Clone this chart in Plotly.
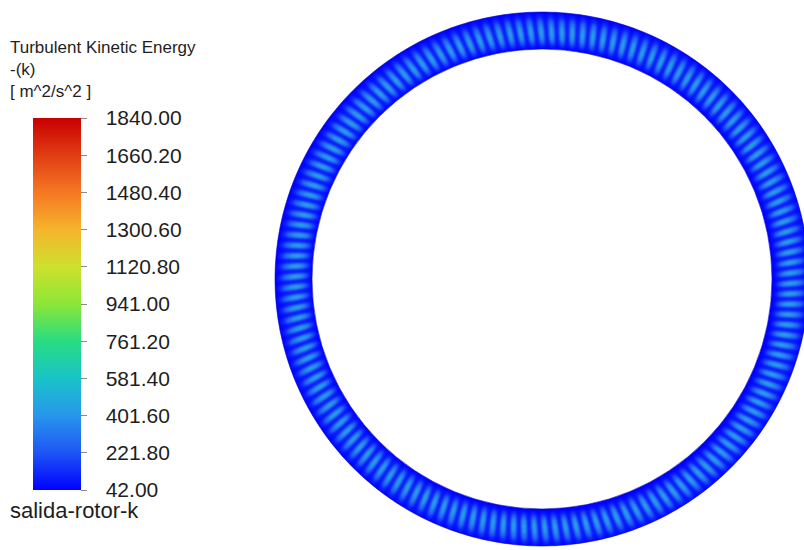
import numpy as np
import plotly.graph_objects as go

# ---- colour scale / legend values -------------------------------------
tick_values = [42.00, 221.80, 401.60, 581.40, 761.20, 941.00,
               1120.80, 1300.60, 1480.40, 1660.20, 1840.00]
tick_labels = [f"{v:.2f}" for v in tick_values]
k_min, k_max = 42.00, 1840.00

# ---- field on the rotor-outlet annulus ---------------------------------
# normalised radial position across the annulus (0 = inner wall, 1 = outer wall)
radial_s = [0.0, 0.08, 0.18, 0.30, 0.45, 0.60, 0.75, 0.88, 1.0]
# k between blade wakes, and at the wake cores [m^2/s^2]
k_trough = [42, 60, 85, 100, 110, 105, 92, 68, 42]
k_crest = [42, 90, 220, 380, 460, 420, 300, 140, 55]
# wake shape across one blade passage (phase 0..1 -> weight 0..1)
passage_phase = [0.0, 0.15, 0.30, 0.50, 0.70, 0.85, 1.0]
passage_weight = [0.0, 0.12, 0.65, 1.00, 0.65, 0.12, 0.0]
n_passages = 150

# ---- drawing geometry (screen units) -----------------------------------
W, H = 804, 550
cx, cy = 542.0, 279.0
r_in, r_out = 230.0, 267.0
wake_lean = 0.35
bar_top, bar_bottom, bar_left, bar_w = 118, 490, 33, 48

xs = np.arange(cx - r_out - 6, cx + r_out + 6, 1.0)
ys = np.arange(cy - r_out - 6, cy + r_out + 6, 1.0)
X, Y = np.meshgrid(xs, ys)
R = np.hypot(X - cx, Y - cy)
TH = np.arctan2(Y - cy, X - cx)
S = np.clip((R - r_in) / (r_out - r_in), 0.0, 1.0)
phase = np.mod(TH / (2 * np.pi) * n_passages + wake_lean * S, 1.0)
kt = np.interp(S, radial_s, k_trough)
kc = np.interp(S, radial_s, k_crest)
wgt = np.interp(phase, passage_phase, passage_weight)
Z = (kt + (kc - kt) * wgt).astype(np.float32)

colorscale = [
    [0.0, "rgb(0,0,255)"],
    [0.1, "rgb(30,85,245)"],
    [0.2, "rgb(40,150,235)"],
    [0.3, "rgb(25,195,200)"],
    [0.4, "rgb(40,220,130)"],
    [0.5, "rgb(140,230,55)"],
    [0.6, "rgb(205,225,45)"],
    [0.7, "rgb(245,180,45)"],
    [0.8, "rgb(245,120,35)"],
    [0.9, "rgb(225,60,20)"],
    [1.0, "rgb(200,0,0)"],
]

font = "Liberation Sans, Arial, sans-serif"
bar_pos = dict(
    x=bar_left / W, xanchor="left", xpad=0,
    y=1 - (bar_top + bar_bottom) / 2 / H, yanchor="middle", ypad=0,
    thickness=bar_w, thicknessmode="pixels",
    len=bar_bottom - bar_top, lenmode="pixels", outlinewidth=0,
    tickmode="array", tickvals=tick_values,
)

fig = go.Figure()
# contour field; its colour bar carries the value labels
fig.add_trace(go.Heatmap(
    x=xs, y=ys, z=Z, zmin=k_min, zmax=k_max, zsmooth="best",
    colorscale=colorscale, hoverinfo="skip",
    colorbar=dict(
        **bar_pos, ticktext=tick_labels,
        ticks="outside", ticklen=21, tickcolor="rgba(0,0,0,0)",
        tickfont=dict(family=font, size=21, color="#1e1e1e"),
    ),
))
# second scale on the same spot drawing the short tick marks
fig.add_trace(go.Heatmap(
    x=[-200, -199], y=[-200, -199], z=[[k_min, k_max], [k_min, k_max]],
    zmin=k_min, zmax=k_max, colorscale=colorscale, hoverinfo="skip",
    colorbar=dict(**bar_pos, ticks="outside", ticklen=6, tickwidth=1,
                  tickcolor="#8a8a8a", showticklabels=False),
))

# white masks outside the outer wall and inside the inner wall
ang = np.linspace(0, 2 * np.pi, 361)
circ = " ".join(
    ("M" if i == 0 else "L") + f"{cx + r_out * np.cos(a):.2f},{cy + r_out * np.sin(a):.2f}"
    for i, a in enumerate(ang)
)
outer_mask = f"M-50,-50 L900,-50 L900,650 L-50,650 Z {circ} Z"
fig.add_shape(type="path", path=outer_mask, fillrule="evenodd",
              fillcolor="white", line_width=0, layer="above")
fig.add_shape(type="circle", x0=cx - r_in, x1=cx + r_in, y0=cy - r_in, y1=cy + r_in,
              fillcolor="white", line=dict(color="rgba(10,10,190,0.6)", width=1),
              layer="above")
fig.add_shape(type="circle", x0=cx - r_out, x1=cx + r_out, y0=cy - r_out, y1=cy + r_out,
              line=dict(color="rgba(10,10,190,0.6)", width=1), layer="above")

# legend heading and surface name
fig.add_annotation(text="Turbulent Kinetic Energy<br>-(k)<br>[ m^2/s^2 ]",
                   xref="paper", yref="paper", x=8 / W, y=1 - 70 / H,
                   xanchor="left", yanchor="middle", align="left", showarrow=False,
                   font=dict(family=font, size=17, color="#1e1e1e"))
fig.add_annotation(text="salida-rotor-k", xref="paper", yref="paper",
                   x=8 / W, y=1 - 510 / H, xanchor="left", yanchor="middle",
                   showarrow=False, font=dict(family=font, size=22, color="#1e1e1e"))

fig.update_layout(
    width=W, height=H, margin=dict(l=0, r=0, t=0, b=0, autoexpand=False),
    paper_bgcolor="white", plot_bgcolor="white",
    xaxis=dict(range=[0, W], visible=False, domain=[0, 1], fixedrange=True),
    yaxis=dict(range=[H, 0], visible=False, domain=[0, 1], fixedrange=True),
    showlegend=False,
)

fig.write_html("out.html")
